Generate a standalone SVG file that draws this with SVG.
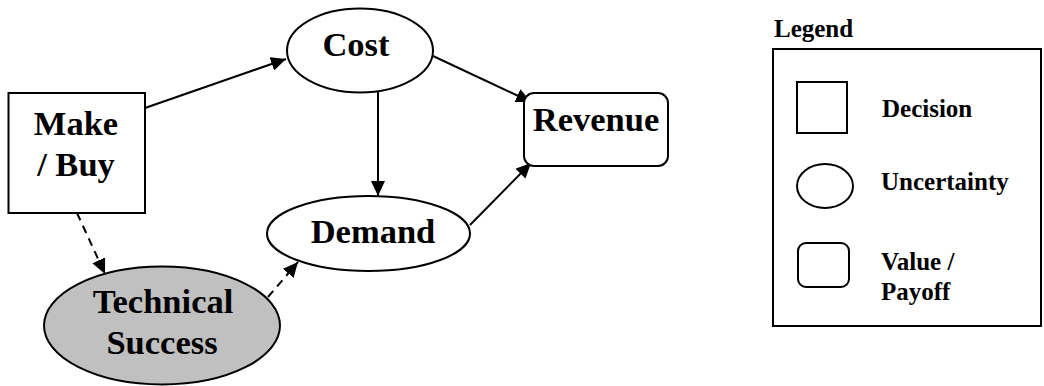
<svg xmlns="http://www.w3.org/2000/svg" width="1044" height="386" viewBox="0 0 1044 386">
  <style>
    .shape { fill: #ffffff; stroke: #000000; stroke-width: 2; }
    .chance-shaded { fill: #c0c0c0; stroke: #000000; stroke-width: 2; }
    .label { font-family: "Liberation Serif", "Times New Roman", serif; font-weight: bold; fill: #000000; }
    .big { font-size: 34.5px; text-anchor: middle; }
    .small { font-size: 25px; }
    .edge { fill: none; stroke: #000000; stroke-width: 2; }
    .dashed { stroke-dasharray: 8 6; }
  </style>
  <defs>
    <marker id="arrow" viewBox="0 0 10 10" refX="10" refY="5" markerWidth="7.5" markerHeight="7" markerUnits="strokeWidth" orient="auto" preserveAspectRatio="none">
      <path d="M0,0 L10,5 L0,10 z" fill="#000000"/>
    </marker>
  </defs>

  <rect width="1044" height="386" fill="#ffffff"/>

  <!-- connectors -->
  <g id="connectors">
    <line class="edge" x1="145" y1="108" x2="286" y2="59" marker-end="url(#arrow)"/>
    <line class="edge" x1="378" y1="91" x2="378" y2="196" marker-end="url(#arrow)"/>
    <line class="edge" x1="433" y1="56" x2="531" y2="102" marker-end="url(#arrow)"/>
    <line class="edge" x1="470" y1="225" x2="531" y2="163" marker-end="url(#arrow)"/>
    <line class="edge dashed" x1="77" y1="213" x2="105" y2="274" marker-end="url(#arrow)"/>
    <line class="edge dashed" x1="268" y1="297" x2="298" y2="262" marker-end="url(#arrow)"/>
  </g>

  <!-- decision node -->
  <g id="make-buy">
    <rect class="shape" x="8.5" y="93" width="136.5" height="120"/>
    <text class="label big" x="76" y="135">Make</text>
    <text class="label big" x="76" y="176">/ Buy</text>
  </g>

  <!-- uncertainty nodes -->
  <g id="cost">
    <ellipse class="shape" cx="360" cy="50.5" rx="73" ry="42"/>
    <text class="label big" x="356" y="56">Cost</text>
  </g>

  <g id="demand">
    <ellipse class="shape" cx="368.5" cy="233.5" rx="101.5" ry="37.5"/>
    <text class="label big" x="373" y="243">Demand</text>
  </g>

  <g id="technical-success">
    <ellipse class="chance-shaded" cx="162" cy="325.5" rx="118" ry="59"/>
    <text class="label big" x="163" y="313">Technical</text>
    <text class="label big" x="162" y="354">Success</text>
  </g>

  <!-- value node -->
  <g id="revenue">
    <rect class="shape" x="524" y="93" width="144" height="73" rx="10" ry="10"/>
    <text class="label big" x="596" y="131">Revenue</text>
  </g>

  <!-- legend -->
  <g id="legend">
    <text class="label small" x="774" y="37">Legend</text>
    <rect class="edge" x="773" y="49" width="268" height="277"/>
    <rect class="shape" x="797" y="82" width="50" height="51"/>
    <text class="label small" x="882" y="117">Decision</text>
    <ellipse class="shape" cx="825" cy="186" rx="28" ry="22"/>
    <text class="label small" x="881" y="190">Uncertainty</text>
    <rect class="shape" x="798" y="243" width="51" height="44" rx="8" ry="8"/>
    <text class="label small" x="881" y="270">Value /</text>
    <text class="label small" x="881" y="300">Payoff</text>
  </g>
</svg>
